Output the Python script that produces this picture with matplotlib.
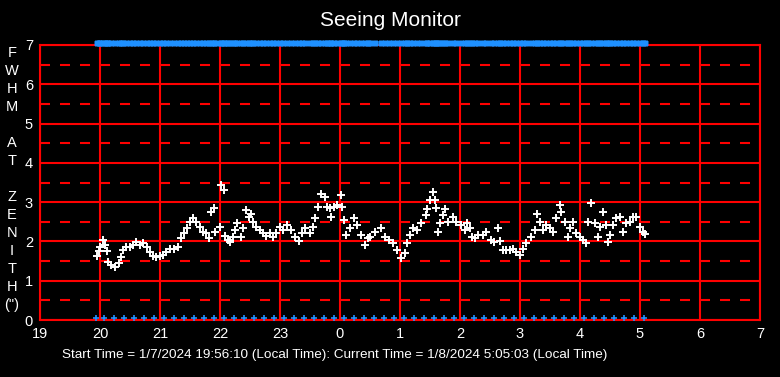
import matplotlib
matplotlib.use("Agg")
import matplotlib.pyplot as plt
import numpy as np

plt.rcParams['font.family'] = ['Liberation Sans', 'DejaVu Sans']
plt.rcParams['lines.scale_dashes'] = False

# measurement times (hours, continuing past midnight as 24+) and FWHM values
times = [19.955, 19.978, 20.005, 20.045, 20.078, 20.122, 20.133, 20.188, 20.255, 20.312,
         20.355, 20.388, 20.438, 20.495, 20.55, 20.605, 20.662, 20.717, 20.788, 20.828,
         20.883, 20.938, 20.995, 21.05, 21.105, 21.162, 21.233, 21.3, 21.345, 21.4,
         21.455, 21.495, 21.55, 21.605, 21.662, 21.717, 21.772, 21.812, 21.845, 21.9,
         21.922, 21.995, 22.022, 22.067, 22.088, 22.133, 22.162, 22.217, 22.245, 22.288,
         22.355, 22.383, 22.438, 22.478, 22.512, 22.55, 22.605, 22.662, 22.717, 22.772,
         22.828, 22.883, 22.938, 22.995, 23.05, 23.122, 23.178, 23.245, 23.312, 23.367,
         23.422, 23.495, 23.55, 23.588, 23.633, 23.688, 23.745, 23.788, 23.84, 23.85,
         23.9, 23.955, 24.022, 24.033, 24.067, 24.105, 24.162, 24.233, 24.288, 24.345,
         24.412, 24.467, 24.495, 24.578, 24.678, 24.745, 24.812, 24.883, 24.955, 25.022,
         25.078, 25.122, 25.162, 25.217, 25.288, 25.355, 25.438, 25.455, 25.495, 25.55,
         25.578, 25.605, 25.633, 25.662, 25.717, 25.745, 25.8, 25.883, 25.938, 26.012,
         26.078, 26.122, 26.162, 26.2, 26.245, 26.3, 26.383, 26.438, 26.512, 26.567,
         26.633, 26.662, 26.717, 26.772, 26.828, 26.883, 26.938, 26.995, 27.05, 27.105,
         27.178, 27.245, 27.288, 27.328, 27.383, 27.438, 27.495, 27.55, 27.605, 27.662,
         27.688, 27.755, 27.8, 27.828, 27.883, 27.938, 27.995, 28.05, 28.105, 28.133,
         28.188, 28.255, 28.3, 28.328, 28.383, 28.438, 28.467, 28.495, 28.55, 28.605,
         28.662, 28.717, 28.772, 28.828, 28.883, 28.938, 28.995, 29.05, 29.078]
fwhm = [1.63, 1.76, 1.87, 2.04, 1.91, 1.76, 1.48, 1.40, 1.36, 1.44,
        1.61, 1.78, 1.87, 1.87, 1.91, 1.99, 1.91, 1.95, 1.87, 1.74,
        1.64, 1.61, 1.64, 1.65, 1.74, 1.81, 1.82, 1.87, 2.10, 2.21,
        2.35, 2.50, 2.60, 2.50, 2.37, 2.23, 2.21, 2.10, 2.76, 2.84,
        2.23, 2.37, 3.44, 3.31, 2.14, 2.04, 1.99, 2.12, 2.29, 2.46,
        2.12, 2.33, 2.80, 2.63, 2.69, 2.50, 2.37, 2.29, 2.21, 2.14,
        2.21, 2.12, 2.21, 2.37, 2.29, 2.42, 2.29, 2.12, 2.01, 2.21,
        2.33, 2.21, 2.37, 2.60, 2.88, 3.22, 3.14, 2.88, 2.84, 2.63,
        2.88, 2.93, 3.18, 2.88, 2.55, 2.16, 2.33, 2.59, 2.42, 2.16,
        1.91, 2.08, 2.12, 2.25, 2.35, 2.12, 2.04, 1.95, 1.78, 1.59,
        1.70, 1.95, 2.16, 2.33, 2.29, 2.46, 2.67, 2.83, 3.05, 3.27,
        3.05, 2.84, 2.25, 2.46, 2.67, 2.82, 2.50, 2.63, 2.50, 2.42,
        2.29, 2.46, 2.33, 2.12, 2.08, 2.16, 2.16, 2.23, 2.04, 1.99,
        2.33, 2.01, 1.78, 1.78, 1.78, 1.82, 1.74, 1.65, 1.82, 1.95,
        2.12, 2.29, 2.69, 2.50, 2.29, 2.42, 2.33, 2.25, 2.59, 2.94,
        2.76, 2.50, 2.12, 2.33, 2.50, 2.21, 2.12, 2.04, 1.95, 2.50,
        2.97, 2.46, 2.12, 2.37, 2.76, 2.42, 1.99, 2.16, 2.42, 2.59,
        2.63, 2.25, 2.46, 2.50, 2.63, 2.63, 2.37, 2.25, 2.18]

# ten-minute markers along the bottom
bottom_marks = ["19:56",
                "20:04", "20:14", "20:24", "20:34", "20:44", "20:54",
                "21:04", "21:14", "21:24", "21:34", "21:44", "21:54",
                "22:04", "22:14", "22:24", "22:34", "22:44", "22:54",
                "23:04", "23:14", "23:24", "23:34", "23:44", "23:54",
                "0:04", "0:14", "0:24", "0:34", "0:44", "0:54",
                "1:04", "1:14", "1:24", "1:34", "1:44", "1:54",
                "2:04", "2:14", "2:24", "2:34", "2:44", "2:54",
                "3:04", "3:14", "3:24", "3:34", "3:44", "3:54",
                "4:04", "4:14", "4:24", "4:34", "4:44", "4:54",
                "5:04"]

x_ticks = [19, 20, 21, 22, 23, 24, 25, 26, 27, 28, 29, 30, 31]
y_ticks = [0, 1, 2, 3, 4, 5, 6, 7]
ylabel_chars = ['F', 'W', 'H', 'M', '', 'A', 'T', '', 'Z', 'E', 'N', 'I', 'T', 'H', '(")']
footer = "Start Time = 1/7/2024 19:56:10 (Local Time): Current Time = 1/8/2024 5:05:03 (Local Time)"


def clock_to_hours(s):
    h, m = s.split(':')
    t = int(h) + int(m) / 60
    if t < 12:
        t += 24
    return t


W, H = 780, 377
fig = plt.figure(figsize=(7.8, 3.77), dpi=100, facecolor='black')
ax = fig.add_axes([40 / W, 1 - 320 / H, 720 / W, 275 / H], facecolor='black')

red = '#ff0000'
blue = '#1e90ff'

ax.set_xlim(19, 31)
ax.set_ylim(0, 7)

# solid grid at integers, dashed at the halves
for x in x_ticks:
    ax.axvline(x, color=red, lw=1.5, zorder=1)
for y in y_ticks:
    ax.axhline(y, color=red, lw=1.5, zorder=1)
for y in np.array(y_ticks[:-1]) + 0.5:
    ax.axhline(y, color=red, lw=1.5, dashes=(7.2, 7.2), zorder=1)

ax.plot(times, fwhm, linestyle='none', marker='+', color='white',
        markersize=5.5, mew=1.4, zorder=3)
# top row: one mark per measurement, runs together into a bar
ax.plot(times, [7.05] * len(times), linestyle='none', marker='+', color=blue,
        markersize=5, mew=3.5, clip_on=False, zorder=4)
bt = [clock_to_hours(s) for s in bottom_marks]
ax.plot(bt, [0.04] * len(bt), linestyle='none', marker='+', color=blue,
        markersize=4.5, mew=1.2, clip_on=False, zorder=4)

for s in ax.spines.values():
    s.set_color(red)
    s.set_linewidth(1.5)

ax.set_xticks(x_ticks)
ax.set_xticklabels([str(x % 24) for x in x_ticks])
ax.set_yticks(y_ticks)
ax.tick_params(length=0, colors='white', labelsize=10.5)
ax.tick_params(axis='x', pad=5)
ax.tick_params(axis='y', pad=5)

fig.text(0.5, 1 - 20 / H, "Seeing Monitor", color='white', fontsize=15,
         ha='center', va='center')

for i, ch in enumerate(ylabel_chars):
    if ch:
        fig.text(12 / W, 1 - (53 + 18 * i) / H, ch, color='white', fontsize=10.5,
                 ha='center', va='center')

fig.text(62 / W, 1 - 355 / H, footer, color='white', fontsize=9.7,
         ha='left', va='center')

fig.savefig('out.png', dpi=100, facecolor='black')
